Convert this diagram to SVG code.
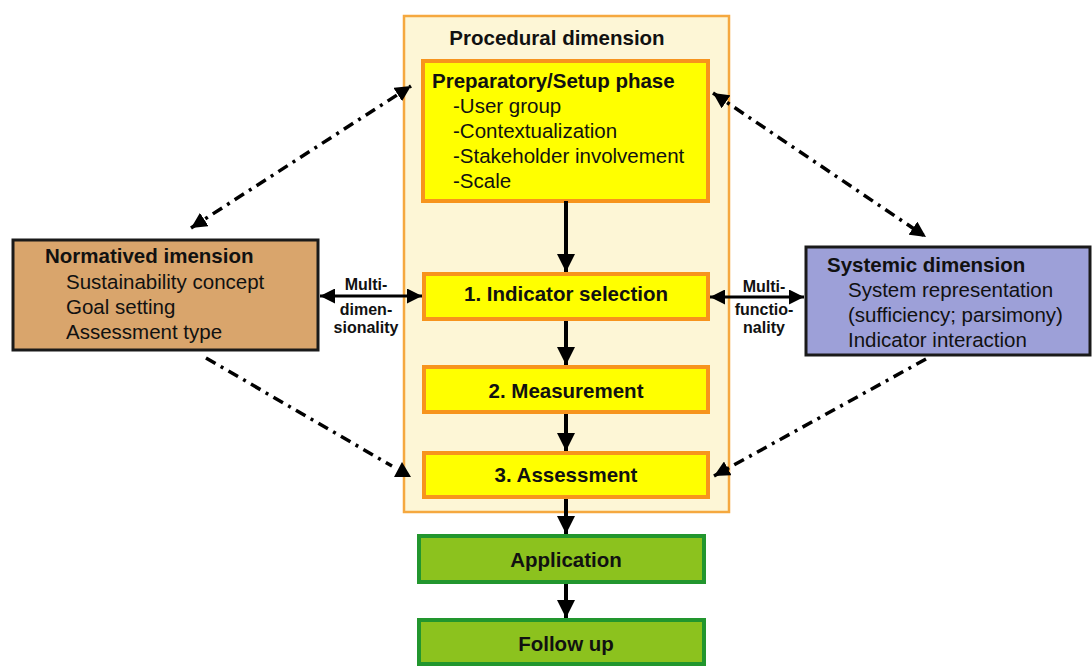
<svg xmlns="http://www.w3.org/2000/svg" width="1092" height="666" viewBox="0 0 1092 666">
<defs>
<style>
text{font-family:"Liberation Sans",Arial,sans-serif;fill:#111;}
.b{font-weight:bold;}
.t{font-size:20.5px;}
.i{font-size:20.5px;}
.s{font-size:16px;font-weight:bold;}
.ybox{fill:#ffff00;stroke:#f7941d;stroke-width:4;}
.gbox{fill:#8cc21e;stroke:#22962e;stroke-width:4;}
.flow{stroke:#000;stroke-width:4;fill:none;}
.dd{stroke:#000;stroke-width:3.5;fill:none;stroke-dasharray:11 6 3 6;}
</style>
<marker id="ah" viewBox="0 0 10 10" refX="10" refY="5" markerWidth="4.5" markerHeight="4.5" orient="auto-start-reverse" markerUnits="strokeWidth">
<path d="M0,0 L10,5 L0,10 z" fill="#000"/>
</marker>
<marker id="ah2" viewBox="0 0 10 10" refX="10" refY="5" markerWidth="5" markerHeight="5" orient="auto-start-reverse" markerUnits="strokeWidth">
<path d="M0,0 L10,5 L0,10 z" fill="#000"/>
</marker>
</defs>
<rect width="1092" height="666" fill="#fff"/>

<g id="procedural">
<rect x="404" y="16" width="325" height="496" fill="#fdf6d6" stroke="#f5a83f" stroke-width="2.5"/>
<text class="b t" x="557" y="45" text-anchor="middle">Procedural dimension</text>
</g>

<g id="setup">
<rect class="ybox" x="423" y="61" width="285" height="140"/>
<text class="b t" x="432" y="88">Preparatory/Setup phase</text>
<text class="i" x="453" y="113">-User group</text>
<text class="i" x="453" y="138">-Contextualization</text>
<text class="i" x="453" y="163">-Stakeholder involvement</text>
<text class="i" x="453" y="188">-Scale</text>
</g>

<g id="indicator">
<rect class="ybox" x="424" y="274" width="284" height="45"/>
<text class="b t" x="566" y="301" text-anchor="middle">1. Indicator selection</text>
</g>

<g id="measurement">
<rect class="ybox" x="424" y="367" width="284" height="45"/>
<text class="b t" x="566" y="398" text-anchor="middle">2. Measurement</text>
</g>

<g id="assessment">
<rect class="ybox" x="424" y="453" width="284" height="44"/>
<text class="b t" x="566" y="482" text-anchor="middle">3. Assessment</text>
</g>

<g id="application">
<rect class="gbox" x="419" y="536" width="285" height="46"/>
<text class="b t" x="566" y="567" text-anchor="middle">Application</text>
</g>

<g id="followup">
<rect class="gbox" x="419" y="620" width="285" height="44"/>
<text class="b t" x="566" y="651" text-anchor="middle">Follow up</text>
</g>

<g id="normative">
<rect x="13" y="240" width="305" height="110" fill="#d9a56c" stroke="#1a1a1a" stroke-width="3"/>
<text class="b t" x="45" y="263">Normatived imension</text>
<text class="i" x="66" y="289">Sustainability concept</text>
<text class="i" x="66" y="314">Goal setting</text>
<text class="i" x="66" y="339">Assessment type</text>
</g>

<g id="systemic">
<rect x="806" y="247" width="284" height="108" fill="#9da0d8" stroke="#1a1a1a" stroke-width="3"/>
<text class="b t" x="827" y="272">Systemic dimension</text>
<text class="i" x="848" y="297">System representation</text>
<text class="i" x="848" y="322">(sufficiency; parsimony)</text>
<text class="i" x="848" y="347">Indicator interaction</text>
</g>

<g id="labels">
<text class="s" x="366" y="290" text-anchor="middle">Multi-</text>
<text class="s" x="366" y="315" text-anchor="middle">dimen-</text>
<text class="s" x="366" y="333" text-anchor="middle">sionality</text>
<text class="s" x="764" y="292" text-anchor="middle">Multi-</text>
<text class="s" x="764" y="315" text-anchor="middle">functio-</text>
<text class="s" x="764" y="333" text-anchor="middle">nality</text>
</g>

<g id="connectors">
<line class="flow" x1="566" y1="201" x2="566" y2="272" marker-end="url(#ah)"/>
<line class="flow" x1="566" y1="321" x2="566" y2="365" marker-end="url(#ah)"/>
<line class="flow" x1="566" y1="414" x2="566" y2="451" marker-end="url(#ah)"/>
<line class="flow" x1="566" y1="499" x2="566" y2="534" marker-end="url(#ah)"/>
<line class="flow" x1="566" y1="584" x2="566" y2="618" marker-end="url(#ah)"/>
<line x1="320" y1="296" x2="422" y2="296" stroke="#000" stroke-width="3" marker-start="url(#ah2)" marker-end="url(#ah2)"/>
<line x1="710" y1="297" x2="804" y2="297" stroke="#000" stroke-width="3" marker-start="url(#ah2)" marker-end="url(#ah2)"/>
<line class="dd" x1="191" y1="228" x2="411" y2="86" marker-start="url(#ah)" marker-end="url(#ah)"/>
<line class="dd" x1="713" y1="93" x2="926" y2="237" marker-start="url(#ah)" marker-end="url(#ah)"/>
<line class="dd" x1="206" y1="358" x2="392" y2="466"/>
<polygon points="402,462 394,477 411,477" fill="#000"/>
<line class="dd" x1="926" y1="359" x2="714" y2="476" marker-end="url(#ah)"/>
</g>
</svg>
